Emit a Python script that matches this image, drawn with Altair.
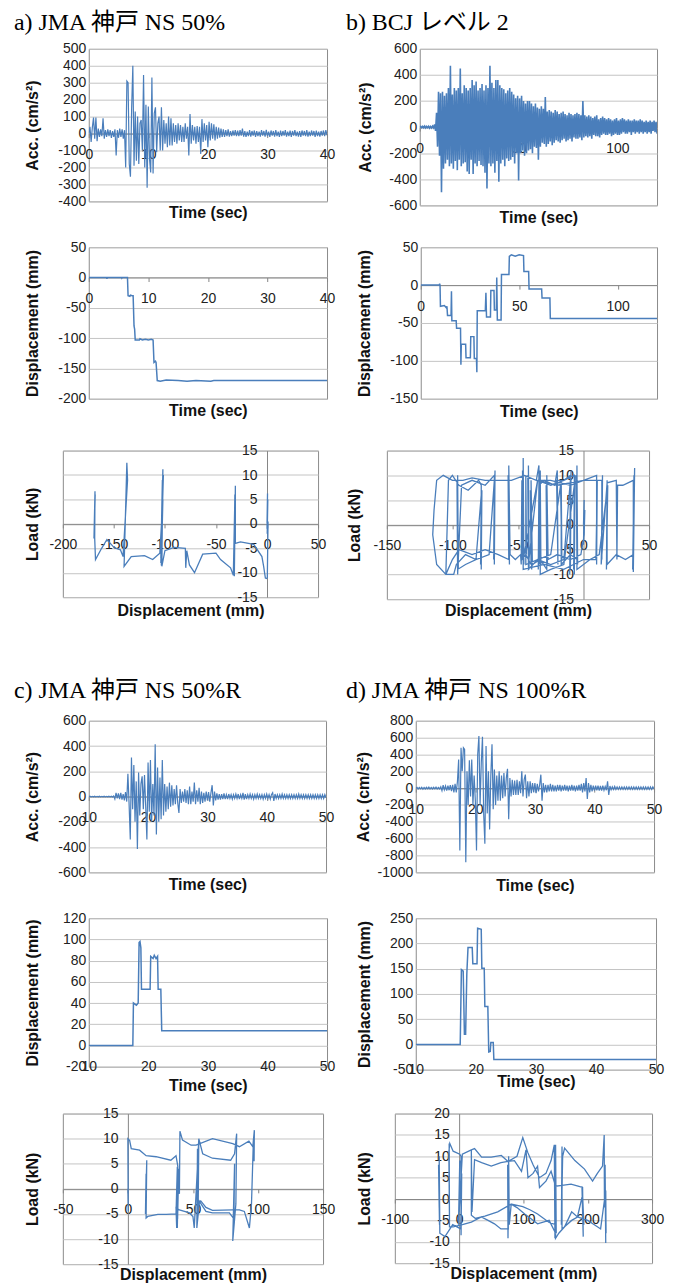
import altair as alt
import numpy as np
import pandas as pd

BLUE = "#4a7ebb"
GRID = "#c4c4c4"
AXISC = "#868686"
BORDER = "#8c8c8c"
SANS = "Liberation Sans"
SERIF = "'Liberation Serif', 'Noto Sans CJK JP', serif"

TITLES = ["a) JMA 神戸 NS 50%", "b) BCJ レベル 2", "c) JMA 神戸 NS 50%R", "d) JMA 神戸 NS 100%R"]

# ---------------- acceleration records (regular sampling) ----------------
A_ACC_START, A_ACC_DT = 0.0, 0.2
A_ACC = [0, 40, -50, 35, 95, -30, 95, -45, 30, -20, 25, -15, 90, -30, 20,
         -20, 25, -15, 20, -25, 15, -20, 25, -130, 20, -25, 30, -20, 25, -30,
         20, -200, 310, 300, -180, -255, 150, 400, -190, 130, -160, 100, -180, 60, 80,
         -100, 345, -200, 170, -320, 160, -150, -230, 330, -235, 120, 155, -110, 60, 100,
         -100, 155, -100, 80, -60, 60, -80, 100, -70, 90, -70, 60, -50, 50, -60,
         60, -40, 50, -50, 40, -50, 60, -30, 40, -130, 115, -60, 50, -40, 40,
         -60, 45, -50, 40, -120, 85, -50, 60, -40, 50, -80, 70, -40, 60, -30,
         55, -40, 40, -30, 35, -25, 30, -20, 25, -20, 20, -15, 25, -18, 15,
         -15, 18, -12, 20, -15,
         18, -15, 20, -12, 30, -18, 15, -20, 12, -15, 20, -18, 15, -12, 18,
         -20, 15, -15, 12, -18, 20, -12, 15, -18, 22, -15, 12, -20, 18, -12,
         15, -18, 20, -15, 12, -20, 18, -15, 15, -12, 20, -18, 12, -15, 18,
         -20, 15, -12, 20, -15, 12, -18, 15, -20, 18, -12, 15, -15, 20, -18,
         12, -15, 18, -12, 15, -20, 18, -15, 12, -18, 15, -12, 18, -15, 20,
         -10]

B_ACC_START, B_ACC_DT = 0.0, 0.5
B_ACC = [0, 5, -5, 5, -5, 8, -6, 5, -5, 6, -8, 5, -6, 8, -5,
         20, -30, 110, -150, 270,
         -220, 260, -500, 270, -320, 240, -280, 260, -250, 300,
         -300, 470, -280, 250, -320, 300, -260, 280, -330, 300,
         -250, 450, -300, 260, -280, 320, -270, 300, -340, 280,
         -360, 300, -250, 360, -360, 320, -280, 350, -300, 280,
         -260, 300, -290, 330, -300, 280, -350, 320, -470, 300,
         -280, 470, -300, 340, -280, 300, -350, 360, -260, 360,
         -420, 320, -280, 300, -250, 290, -300, 260, -240, 280,
         -260, 300, -250, 270, -230, 250, -280, 220, -200, 240,
         -410, 220, -200, 240, -180, 200, -220, 180, -200, 200,
         -180, 200, -170, 180, -200, 160, -150, 180, -160, 150,
         -250, 140, -150, 160, -120, 140, -130, 230, -150, 120,
         -130, 130, -110, 120, -140, 110, -120, 130, -100, 120,
         -110, 100, -120, 110, -100, 120, -90, 100, -110, 90,
         -100, 110, -90, 100, -110, 90, -80, 100, -90, 110,
         -90, 100, -80, 90, -100, 200, -80, 90, -70, 80,
         -80, 90, -70, 80, -90, 70, -60, 80, -70, 90,
         -70, 60, -80, 70, -60, 80, -50, 70, -60, 60,
         -60, 70, -50, 60, -70, 50, -60, 60, -50, 70,
         -60, 50, -60, 60, -50, 70, -40, 60, -50, 50,
         -50, 60, -40, 50, -60, 50, -40, 60, -50, 50,
         -40, 50, -50, 60, -40, 50, -50, 40, -40, 50,
         -50, 40, -40, 50, -50, 40, -30, 50, -40, 40,
         -50]

C_ACC_START, C_ACC_DT = 10.0, 0.2
C_ACC = [0, 3, -3, 2, -2, 3, -3, 2, -2, 3, -3, 2, -2, 3, -3, 2, -2, 3, -3, 2,
         -3, 5, -20, 30, -15, 25, -20, 30, -25, 20, -30, 35, -40, 180, -60,
         -340, 310, -100, 250, -200, 120, -415, 190, -150, 100, 160, -100, 170, -80, -340,
         270, -120, 290, -200, 100, -150, 415, -300, 230, -200, 150, -180, 290, -150, 100,
         -120, 80, -100, 110, -80, 90, -70, 60, -60, 90, -50, -130, 60, -50, 40,
         -40, 60, -50, 50, -60, 80, -60, 40, -40, 110, -60, 50, -40, 70, -60,
         40, -50, 30, -40, 40, -30, 35, -40, 30, 90, -70, 40, -30, 25, -25,
         20, -25, 20, -20, 25, -20, 15, -20, 20, -15, 15, -20, 15, -15, 20,
         -15, 20, -20, 15, -15, 30, -25, 20, -20, 15, -15, 20, -15, 15, -20,
         15, -15, 20, -15, 15, -15, 15, -20, 15, -15, 20, -15, 15, -20, 15,
         30, -35, 20, -15, 15, -15, 15, -15, 20, -15, 15, -15, 15, -15, 15,
         -15, 15, -15, 15, -15, 15, -15, 20, -15, 15, -15, 15, -15, 15, -15,
         15, -15, 15, -15, 15, -15, 15, -15, 15, -15, 15, -15, 15, -15, 15,
         -10]

D_ACC_START, D_ACC_DT = 10.0, 0.2
D_ACC = [0, 10, -10, 8, -8, 10, -12, 8, -10, 10, -8, 12, -10, 8, -10, 10, -8, 12, -10, 8,
         -10, 15, -30, 35, -20, 25, -30, 30, -25, 35, -35, 40, -50, 50, -50,
         80, 340, -740, 480, 200, 480, 460, -880, 200, -200, 330, -100, 340, -200, 150,
         -150, -740, 400, 620, -200, 300, 610, -300, -660, 500, -300, 200, -490, 150, 520,
         -250, 220, -200, 150, -150, 200, -150, 150, -120, 180, -100, 120, 230, -370, 120,
         -100, 100, -80, 90, -80, 100, -80, 80, -60, 200, -100, 100, 160, -120, 80,
         -100, 80, -60, 60, -50, 60, -60, 50, -40, 40, 160, -150, 60, -50, 40,
         -50, 40, -40, 50, -40, 40, -40, 30, -40, 40, -30, 40, -40, 30, -30,
         40, -30, 30, -40, 30, -30, 40, -30, 30, -40, 30, -30, 40, -30, 50,
         -50, 60, -40, 120, -130, 60, -50, 40, -40, 30, -30, 30, -25, 30, -30,
         25, -30, 30, -25, 20, -25, 80, -80, 25, -20, 15, -15, 20, -15, 15,
         -15, 15, -15, 15, -15, 15, -15, 15, -15, 15, -15, 15, -15, 15, -15,
         15, -15, 15, -15, 15, -15, 15, -15, 15, -15, 15, -15, 15, -15, 15,
         -10]

# ---------------- displacement records (time, mm) ----------------
A_DISP = [(0, 0), (3.0, 0), (3.05, -2), (3.1, 0), (5.5, 0), (5.55, -1), (5.6, 0), (6.5, 0),
          (6.6, -30), (6.9, -31), (7.0, -29), (7.3, -30), (7.45, -30), (7.6, -80), (7.7, -85),
          (7.8, -103), (8.5, -103), (8.6, -101), (9.0, -103), (9.5, -102), (10.0, -103),
          (10.5, -102), (10.8, -103), (10.95, -140), (11.2, -138), (11.3, -140), (11.5, -170),
          (12, -171), (13, -169), (15, -170), (16.5, -171), (18, -170), (20.5, -171), (21, -170),
          (40, -170)]
B_DISP = [(0, 0), (9.5, 0), (9.6, 2), (9.8, 0), (10.0, -28), (12, -27), (13.0, -30), (13.3, -28),
          (13.6, -40), (15.4, -40), (15.6, -8), (15.8, -47), (18.0, -47), (18.2, -57), (20.2, -57),
          (20.4, -105), (20.6, -78), (22.8, -78), (23.0, -96), (25.2, -96), (25.4, -68),
          (27.0, -68), (27.2, -97), (28.3, -97), (28.5, -115), (28.7, -34), (32.8, -34),
          (33.1, -10), (33.4, -42), (35.4, -42), (35.6, -7), (37.2, -7), (37.4, -33), (38.4, -33),
          (38.6, 10), (38.9, -46), (40.8, -46), (41.0, 14), (44.8, 14), (45.0, 38), (46, 40),
          (48, 38), (50, 40), (52.2, 39), (52.4, 18), (54.8, 18), (55.0, -5), (61.4, -5),
          (61.6, -17), (65.6, -17), (65.8, -44), (120, -44)]
C_DISP = [(10, 0), (17.4, 0), (17.5, 40), (18.0, 38), (18.3, 40), (18.45, 97), (18.6, 98),
          (18.75, 92), (18.85, 53), (20.3, 53), (20.4, 84), (20.8, 82), (21.0, 85), (21.3, 82),
          (21.55, 84), (21.65, 53), (22.1, 53), (22.25, 14), (50, 14)]
D_DISP = [(10, 0), (17.4, 0), (17.6, 148), (17.9, 145), (18.1, 20), (18.3, 20), (18.5, 140),
          (18.7, 192), (19.4, 192), (19.5, 160), (20.2, 160), (20.3, 230), (20.9, 228),
          (21.0, 151), (21.4, 151), (21.5, 75), (22.0, 75), (22.15, -15), (22.4, -14),
          (22.5, 4), (22.9, 4), (23.0, -30), (50, -30)]

# ---------------- load-displacement loops (mm, kN) ----------------
A_LOAD = [(0, 0), (0.5, 6.2), (0, -1), (0.8, 5), (0.2, -2), (1.0, 0.5), (0.3, -11), (-0.5, -11.2),
          (-1.6, -11.1), (-3.3, -8.7), (-5, -6.7), (-13, -4.2), (-26, -3.7), (-31, -4.0),
          (-31, 7.8), (-32, -10.7), (-31.5, 6), (-32.5, -9), (-31.7, 3), (-33, -10.5),
          (-35.7, -9), (-45.5, -7.3), (-50, -6), (-63, -6.2), (-71, -10), (-76, -8.4),
          (-78.6, -5.5), (-79.6, -9), (-80, -5), (-91, -4.8), (-100, -5.5), (-103, -8.7),
          (-102, 11.2), (-104, -8), (-101.5, 10), (-104, -7), (-102.5, 9), (-103.5, -8.5),
          (-102, 5), (-105, -6), (-112, -7.3), (-120, -6.5), (-133, -6.7), (-140, -8.7),
          (-137.3, 12.5), (-136.6, 9), (-141, -6.7), (-143.6, -5.3), (-149.6, -4.9),
          (-156.8, -3.2), (-162, -5), (-168, -7.3), (-168.8, -2.9), (-168.5, 6.7),
          (-169.5, -3), (-168.3, 6), (-169.2, -2), (-168.7, 3)]
B_LOAD = [(0, 0), (0.5, 5), (0, -4), (1, 3), (0.5, -2),
          (-2, -6), (-10, -7), (-20, -6), (-27, -7),
          (-28, 10), (-27.5, -8), (-28.5, 8), (-28, -9),
          (-33, -7), (-39, -8),
          (-40, 9), (-39.5, -9), (-40.5, 7), (-40, -8),
          (-44, -6), (-47, -7),
          (-47, 9), (-47.5, -8), (-48, -6),
          (-52, -7), (-56, -6),
          (-57, 12), (-56.5, -8), (-57.5, 10), (-57, -7),
          (-65, -6), (-75, -5), (-85, -6), (-95, -5), (-100, -7), (-105, -10),
          (-103, 9), (-100, 10), (-95, 8), (-88, 7), (-80, 9), (-78, 8),
          (-78, -9), (-77.5, 7), (-78.5, -8), (-78, 6),
          (-82, -7), (-90, -8), (-96, -9),
          (-96, 10), (-95.5, -9), (-96.5, 9), (-96, -10),
          (-93, 8), (-85, 9), (-75, 8), (-68, 10),
          (-68, -8), (-67.5, 11), (-68.5, -7), (-68, 9),
          (-72, -6), (-82, -7), (-90, -6), (-97, -8),
          (-99, -10), (-105, -10), (-112, -8), (-115, -2), (-114, 3), (-112, 9),
          (-107, 10), (-100, 9), (-92, 9), (-85, 9.5), (-75, 9), (-65, 9), (-55, 9), (-45, 10),
          (-36, 9), (-34, 12),
          (-34, -8), (-33.5, 10), (-34.5, -9), (-34, 8),
          (-30, 9), (-22, 8), (-20, 11), (-19.5, -8), (-20.5, 9), (-15, 9), (-10, 10),
          (-10, -9), (-9.5, 11), (-10.5, -10), (-10, 9),
          (-15, -7), (-25, -8), (-35, -7), (-42, -9),
          (-42, 12), (-41.5, -9), (-42.5, 10), (-42, -8),
          (-35, 9), (-25, 8), (-15, 9), (-7, 10),
          (-7, -10), (-6.5, 10), (-7.5, -9), (-7, 8),
          (-15, -8), (-25, -9), (-33, -10),
          (-33, 11), (-32.5, -8), (-33.5, 9),
          (-25, 9), (-10, 8), (0, 9), (10, 10),
          (10, -8), (10.5, 9), (9.5, -7),
          (0, -7), (-15, -9), (-30, -8), (-46, -9),
          (-46, 13.5), (-45.5, -8), (-46.5, 11), (-46, -7),
          (-35, 9), (-20, 8), (0, 9), (14, 9),
          (14, -7), (14.5, 10), (13.5, -8),
          (18, 8.5), (25, 9), (25.5, -7), (26, 8), (30, 8), (38, 9),
          (38, -9.5), (39, 11.5), (37.5, -9), (38.5, 10), (38, -6),
          (32, -7), (25, -6), (18, -8),
          (18, 9), (17.5, -9), (18.5, 8),
          (12, -6), (5, -7), (-5, -9),
          (-5, 12), (-4.5, -8), (-5.5, 10), (-5, -7),
          (-10, -6), (-17, -8),
          (-17, 9), (-16.5, -7), (-17.5, 8),
          (-25, -6), (-35, -7), (-44, -8),
          (-44, 10), (-43.5, -6), (-44, 2)]
C_LOAD = [(0, 0), (0.3, -4.5), (0, 10), (0.8, 9.8), (1.3, 9.7), (2.6, 8), (9, 7.7), (14, 6.6),
          (21.7, 6.4), (33, 5.7), (37, 6.6), (38.4, 4.5), (38, -7.8), (38.8, 4), (38.2, -6),
          (39, 3), (39.6, -1), (40, 11.5), (42, 9.7), (48.6, 8.7), (52.4, 8.7), (65, 10),
          (80.6, 9), (85.7, 8.4), (93, 9.5), (96, 8.4), (97.2, 11.7), (97, 5.5), (96.5, 10),
          (95, -3), (93.4, -7.8), (89.5, -4.5), (85.7, -4.2), (80.6, -4.2), (65, -4.3),
          (60, -3.7), (56, -2.4), (53.5, -3), (53, -7.8), (53.5, 8), (54, -5), (54.5, 10),
          (57.5, 7), (65, 6.1), (79, 5.7), (82, 7), (83.6, 11), (83, -3), (80.6, -10.4),
          (82, 5), (81.5, -6), (78, -4.8), (65, -4.8), (60, -4.5), (55, -2.5), (53, -7.8),
          (54.5, 10), (53, 2), (51, -7.8), (50, -5.5), (47.3, -4.8), (39.6, -4.2), (37, -3.8),
          (37.5, -7.8), (38, 4.4), (37, -5), (29.4, -5.1), (23, -5.1), (15.3, -5.5), (14, -5.8),
          (14.5, 5.7), (13.5, -5), (14, 3), (13.8, -3)]
D_LOAD = [(0, 0), (-1, -6), (1, 9), (0, -3),
          (5, 10.5), (19, 11.5), (24, 11.8), (35, 9.8), (50, 9.8), (65.6, 10.2), (76, 8.8),
          (90, 10), (99, 14.4), (107, 10.8), (115, 8), (125, 5), (135, 6), (143, 9), (148, 12.7),
          (149, -9.2), (148.5, 8), (150, -8),
          (140, -5), (122, -5.8), (102, -3.5), (90, -2), (81, -1.2), (60, -3), (40, -4),
          (25, -4.5), (19, -3.8),
          (19, 11.5), (20, -3),
          (24, 9.2), (35, 8.5), (50, 7.7), (65, 8.5), (76, 8.8), (86, 9), (97, 6.5), (104, 11.5),
          (107, 5), (115, 6), (122, 7.7), (125, 2.7), (135, 4.2), (143, 6.5), (150, 3),
          (160, 3.2), (174, 3.5), (185, 3), (192, 2.7),
          (193, -8.8), (191, 3), (194, -6), (192, 1),
          (184, -4.2), (175, -5), (164, -6.5), (160, -7),
          (160, 12.3), (159, -6), (161, 10),
          (164, 11.9), (180, 9), (195, 7), (207.5, 4.2), (215, 6), (223, 7.7), (225.6, 15),
          (226, -2), (227, 8),
          (228, -10.3), (227, 5), (228.5, -8), (228, 2),
          (220, -7), (215, -6.5), (200, -5), (184, -4.2), (175, -3), (164, -6.5), (155, -8),
          (150, -9.2),
          (150, 12.7), (151, -8), (149, 10), (150, -6),
          (140, -5.5), (122, -3.5), (110, -2.5), (99, -1.8), (81, -1.2), (78, -6),
          (77, 10), (76, -9.2), (75.5, 8), (76.5, -7),
          (65, -7), (55, -5.8), (45, -5), (34.6, -4.2), (19, -5.4), (5, -6), (-9.3, -6.5),
          (-15, -6.5),
          (-15.5, 13), (-15, -5), (-16, 11),
          (-14.5, 13), (-9.3, 11.2), (1, 10.5), (3, 10),
          (3, -8.5), (4, 6), (2.5, -7),
          (-10, -6), (-22, -8.8), (-30, -8),
          (-31, 10), (-30.5, -6), (-32, 8), (-31, -2)]

# ---------------- axis ticks ----------------
XT_A = [0, 10, 20, 30, 40]
XT_B = [0, 50, 100]
XT_CD = [10, 20, 30, 40, 50]
YT_A_ACC = [-400, -300, -200, -100, 0, 100, 200, 300, 400, 500]
YT_B_ACC = [-600, -400, -200, 0, 200, 400, 600]
YT_C_ACC = [-600, -400, -200, 0, 200, 400, 600]
YT_D_ACC = [-1000, -800, -600, -400, -200, 0, 200, 400, 600, 800]
YT_A_DISP = [-200, -150, -100, -50, 0, 50]
YT_B_DISP = [-150, -100, -50, 0, 50]
YT_C_DISP = [-20, 0, 20, 40, 60, 80, 100, 120]
YT_D_DISP = [-50, 0, 50, 100, 150, 200, 250]
XT_A_LOAD = [-200, -150, -100, -50, 0, 50]
XT_B_LOAD = [-150, -100, -50, 0, 50]
XT_C_LOAD = [-50, 0, 50, 100, 150]
XT_D_LOAD = [-100, 0, 100, 200, 300]
YT_LOAD15 = [-15, -10, -5, 0, 5, 10, 15]
YT_LOAD20 = [-15, -10, -5, 0, 5, 10, 15, 20]

LABEL_EXPR = "(datum.value < 0 ? '-' : '') + format(abs(datum.value), 'd')"
ONE = pd.DataFrame({"z": [0]})


def acc_df(start, dt, vals):
    n = len(vals)
    return pd.DataFrame({"t": np.round(start + dt * np.arange(n), 3), "v": vals, "i": np.arange(n)})


def pair_df(pairs):
    return pd.DataFrame({"t": [p[0] for p in pairs], "v": [p[1] for p in pairs],
                         "i": np.arange(len(pairs))})


def framed(line, w, h, L, R, T, B, title=None, tdx=0, ty=-40):
    frame = alt.Chart(ONE).mark_rect(opacity=0).encode(
        x=alt.value(-L), x2=alt.value(w + R), y=alt.value(-T), y2=alt.value(h + B))
    layers = [frame, line]
    if title is not None:
        layers.append(alt.Chart(ONE).mark_text(
            text=title, align="left", baseline="top", font=SERIF, fontSize=24,
            color="#000000").encode(x=alt.value(tdx), y=alt.value(ty)))
    return alt.layer(*layers).properties(
        width=w, height=h, view=alt.ViewBackground(stroke=BORDER, strokeWidth=1))


def ts_panel(df, xdom, ydom, xt, yt, w, h, ytitle, ytx, xty, sw, bottom_labels=False):
    zero = h * (0 - ydom[0]) / (ydom[1] - ydom[0])
    if bottom_labels:
        xax = alt.Axis(values=xt, title="Time (sec)", grid=False, domain=False, ticks=False,
                       tickSize=0, offset=-7, labelPadding=0, titleY=7 + xty,
                       titleBaseline="middle", labelExpr=LABEL_EXPR)
    else:
        xax = alt.Axis(values=xt, title="Time (sec)", grid=False, domain=True,
                       domainColor=AXISC, ticks=True, tickSize=4, tickColor=AXISC,
                       offset=-zero, labelPadding=10, titleY=zero + xty,
                       titleBaseline="middle", labelExpr=LABEL_EXPR)
    yax = alt.Axis(values=yt, title=ytitle, grid=True, gridColor=GRID, domain=False,
                   ticks=False, labelPadding=3, titleX=ytx, titleBaseline="middle",
                   labelExpr=LABEL_EXPR)
    return alt.Chart(df).mark_line(color=BLUE, strokeWidth=sw, clip=True).encode(
        x=alt.X("t:Q", scale=alt.Scale(domain=xdom, nice=False, zero=False), axis=xax),
        y=alt.Y("v:Q", scale=alt.Scale(domain=ydom, nice=False, zero=False), axis=yax),
        order="i:Q",
    )


def load_panel(df, xdom, ydom, xt, yt, w, h, ytx, xty, sw=1.3):
    zy = h * (0 - ydom[0]) / (ydom[1] - ydom[0])
    zx = w * (0 - xdom[0]) / (xdom[1] - xdom[0])
    xax = alt.Axis(values=xt, title="Displacement (mm)", grid=False, domain=True,
                   domainColor=AXISC, ticks=True, tickSize=4, tickColor=AXISC, offset=-zy,
                   labelPadding=10, titleY=zy + xty, titleBaseline="middle",
                   labelExpr=LABEL_EXPR)
    yax = alt.Axis(values=yt, title="Load (kN)", grid=True, gridColor=GRID, domain=True,
                   domainColor=AXISC, ticks=False, offset=-zx, labelPadding=10,
                   titleX=ytx - zx, titleBaseline="middle", labelExpr=LABEL_EXPR)
    return alt.Chart(df).mark_line(color=BLUE, strokeWidth=sw, clip=True).encode(
        x=alt.X("t:Q", scale=alt.Scale(domain=xdom, nice=False, zero=False), axis=xax),
        y=alt.Y("v:Q", scale=alt.Scale(domain=ydom, nice=False, zero=False), axis=yax),
        order="i:Q",
    )


ACC_T = "Acc. (cm/s²)"
DISP_T = "Displacement (mm)"

aAcc = framed(ts_panel(acc_df(A_ACC_START, A_ACC_DT, A_ACC), [0, 40], [-400, 500], XT_A,
                       YT_A_ACC, 239, 153, ACC_T, -56, 11, 1.2),
              239, 153, 76, 12, 38, 24, TITLES[0], -75, -38)
bAcc = framed(ts_panel(acc_df(B_ACC_START, B_ACC_DT, B_ACC), [0, 120], [-600, 600], XT_B,
                       YT_B_ACC, 238, 157, ACC_T, -54, 12, 1.6),
              238, 157, 79, 0, 38, 24, TITLES[1], -74, -38)
aDisp = framed(ts_panel(pair_df(A_DISP), [0, 40], [-200, 50], XT_A, YT_A_DISP, 239, 152,
                        DISP_T, -56, 12, 1.5), 239, 152, 76, 12, 16, 24)
bDisp = framed(ts_panel(pair_df(B_DISP), [0, 120], [-150, 50], XT_B, YT_B_DISP, 237, 152,
                        DISP_T, -56, 13, 1.5), 237, 152, 80, 0, 16, 24)
aLoad = framed(load_panel(pair_df(A_LOAD), [-200, 50], [-15, 15], XT_A_LOAD, YT_LOAD15,
                          256, 147, -30, 13), 256, 147, 50, 12, 26, 24)
bLoad = framed(load_panel(pair_df(B_LOAD), [-150, 50], [-15, 15], XT_B_LOAD, YT_LOAD15,
                          263, 149, -32, 11), 263, 149, 55, 0, 26, 24)
cAcc = framed(ts_panel(acc_df(C_ACC_START, C_ACC_DT, C_ACC), [10, 50], [-600, 600], XT_CD,
                       YT_C_ACC, 238, 152, ACC_T, -56, 12.5, 1.2),
              238, 152, 76, 12, 96, 24, TITLES[2], -75, -42)
dAcc = framed(ts_panel(acc_df(D_ACC_START, D_ACC_DT, D_ACC), [10, 50], [-1000, 800], XT_CD,
                       YT_D_ACC, 239, 152, ACC_T, -52, 13, 1.2),
              239, 152, 76, 0, 96, 24, TITLES[3], -70, -42)
cDisp = framed(ts_panel(pair_df(C_DISP), [10, 50], [-20, 120], XT_CD, YT_C_DISP, 239, 149,
                        DISP_T, -56, 19, 1.5, bottom_labels=True), 239, 149, 76, 12, 20, 30)
dDisp = framed(ts_panel(pair_df(D_DISP), [10, 50], [-50, 250], XT_CD, YT_D_DISP, 241, 152,
                        DISP_T, -51, 12, 1.5, bottom_labels=True), 241, 152, 75, 0, 20, 24)
cLoad = framed(load_panel(pair_df(C_LOAD), [-50, 150], [-15, 15], XT_C_LOAD, YT_LOAD15,
                          261, 151, -30, 10), 261, 151, 50, 12, 15, 18)
dLoad = framed(load_panel(pair_df(D_LOAD), [-100, 300], [-15, 20], XT_D_LOAD, YT_LOAD20,
                          258, 150, -30, 10), 258, 150, 58, 0, 15, 18)


def dummy():
    return alt.Chart(ONE).mark_rect(opacity=0).encode(
        x=alt.value(0), x2=alt.value(1), y=alt.value(0), y2=alt.value(1)
    ).properties(width=1, height=1)


rows = [
    alt.hconcat(dummy(), aAcc, bAcc, spacing=0),
    alt.hconcat(dummy(), aDisp, bDisp, spacing=0),
    alt.hconcat(dummy(), aLoad, bLoad, spacing=0),
    alt.hconcat(dummy(), cAcc, dAcc, spacing=0),
    alt.hconcat(dummy(), cDisp, dDisp, spacing=0),
    alt.hconcat(dummy(), cLoad, dLoad, spacing=0),
]

chart = alt.vconcat(
    *rows, spacing=0,
    padding={"left": 3, "top": 0, "right": 0, "bottom": 0},
).configure_axis(
    labelFont=SANS, labelFontSize=14, labelColor="#222222",
    titleFont=SANS, titleFontSize=16, titleFontWeight="bold", titleColor="#111111",
    labelFlush=False, labelOverlap=False,
).configure_view(strokeWidth=0)

chart.save("out.html", embed_options={"renderer": "svg", "actions": False})
